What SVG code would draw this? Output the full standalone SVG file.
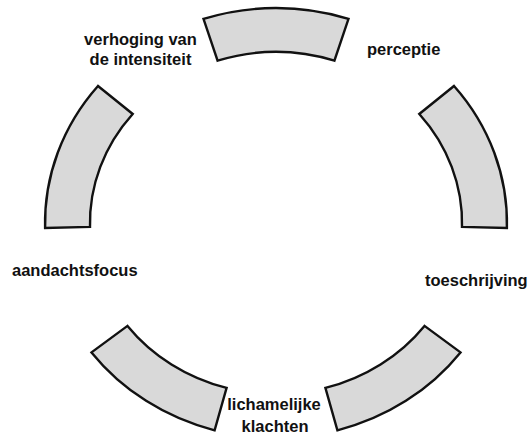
<svg xmlns="http://www.w3.org/2000/svg" width="530" height="436" viewBox="0 0 530 436">
  <style>
    .seg { fill: #d9d9d9; stroke: #111; stroke-width: 2.4; stroke-linejoin: miter; }
    .lbl { font-family: "Liberation Sans", Arial, Helvetica, sans-serif; font-weight: bold; font-size: 16.5px; fill: #111; }
    .mid { text-anchor: middle; }
  </style>
  <rect width="530" height="436" fill="#ffffff"/>
  <!-- Cycle arrows: five ring segments on an ellipse centred at (276,223) -->
  <g id="connectors">
    <path id="seg-top" class="seg" d="M 203.5 18.9 A 231 215 0 0 1 348.5 18.9 L 334.4 60.7 A 186 171 0 0 0 217.6 60.7 Z"/>
    <path id="seg-right" class="seg" d="M 454.0 86.0 A 231 215 0 0 1 506.9 227.9 L 462.0 226.9 A 186 171 0 0 0 419.3 114.0 Z"/>
    <path id="seg-bottom-right" class="seg" d="M 424.5 325.9 L 460.5 352.4 A 231 215 0 0 1 337.4 430.3 L 325.4 387.9 A 186 171 0 0 0 424.5 325.9 Z"/>
    <path id="seg-bottom-left" class="seg" d="M 127.5 325.9 L 91.5 352.4 A 231 215 0 0 0 214.6 430.3 L 226.6 387.9 A 186 171 0 0 1 127.5 325.9 Z"/>
    <path id="seg-left" class="seg" d="M 98.0 86.0 L 132.7 114.0 A 186 171 0 0 0 90.0 226.9 L 45.1 227.9 A 231 215 0 0 1 98.0 86.0 Z"/>
  </g>
  <!-- Stages of the cycle -->
  <g id="perceptie">
    <text class="lbl" x="367" y="55">perceptie</text>
  </g>
  <g id="toeschrijving">
    <text class="lbl" x="425" y="286">toeschrijving</text>
  </g>
  <g id="lichamelijke-klachten">
    <text class="lbl mid" x="274" y="410">lichamelijke</text>
    <text class="lbl mid" x="275" y="432">klachten</text>
  </g>
  <g id="aandachtsfocus">
    <text class="lbl" x="12" y="276">aandachtsfocus</text>
  </g>
  <g id="verhoging-intensiteit">
    <text class="lbl mid" x="140.5" y="45">verhoging van</text>
    <text class="lbl mid" x="140.5" y="65">de intensiteit</text>
  </g>
</svg>
